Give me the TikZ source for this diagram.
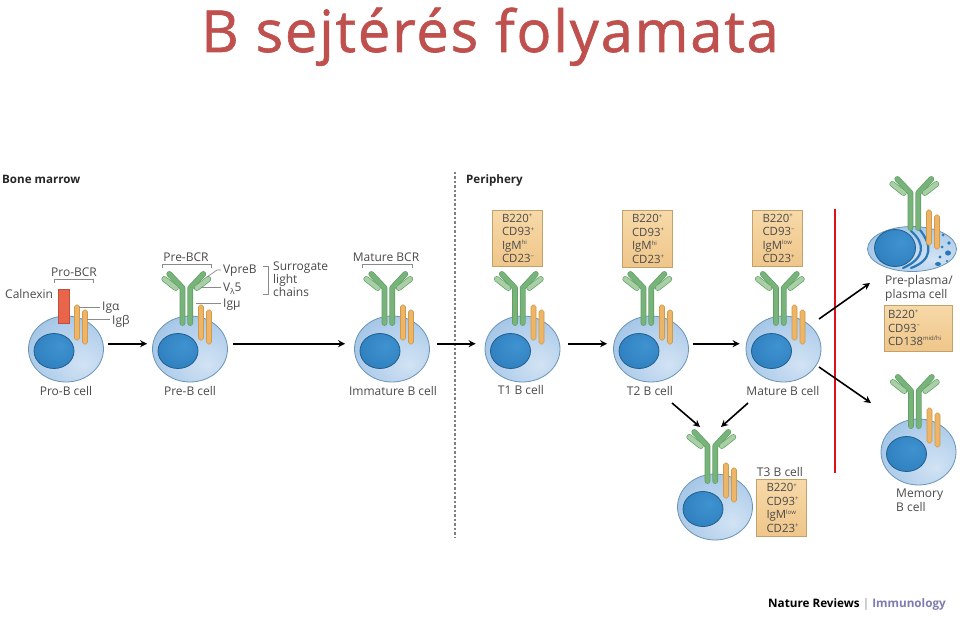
\documentclass[tikz,border=0pt]{standalone}
\usepackage{fontspec}
\setmainfont{Open Sans}
\newfontfamily\titlefont[LetterSpace=3,FakeBold=1]{Open Sans}
\usetikzlibrary{shapes.geometric,arrows.meta}
\definecolor{txt}{HTML}{4A4A4A}
\definecolor{cellA}{HTML}{D2E3F4}
\definecolor{cellB}{HTML}{AECCEA}
\definecolor{cellC}{HTML}{82AEDA}
\definecolor{celledge}{HTML}{6A94B5}
\definecolor{nucA}{HTML}{3F93D0}
\definecolor{nucB}{HTML}{2A78B8}
\definecolor{nucedge}{HTML}{1F5F8F}
\definecolor{grn}{HTML}{78B47A}
\definecolor{grnlt}{HTML}{A9D0A5}
\definecolor{grnedge}{HTML}{5F9E66}
\definecolor{org}{HTML}{EDB565}
\definecolor{orgedge}{HTML}{CF9A4C}
\definecolor{boxA}{HTML}{F7D9A8}
\definecolor{boxB}{HTML}{EFC68A}
\definecolor{boxedge}{HTML}{C4A06B}
\definecolor{titlecol}{HTML}{C0504D}
\definecolor{redline}{HTML}{E01018}
\definecolor{immuno}{HTML}{7C7CB2}
\definecolor{lead}{HTML}{8A8A8A}
\definecolor{calnx}{HTML}{E8654C}
\definecolor{calnxedge}{HTML}{C0503C}
\pgfdeclareradialshading{cellshade}{\pgfpoint{12bp}{-12bp}}{color(0bp)=(cellA); color(28bp)=(cellB); color(58bp)=(cellC); color(70bp)=(cellC)}
\pgfdeclareradialshading{nucshade}{\pgfpoint{8bp}{8bp}}{color(0bp)=(nucA); color(45bp)=(nucB); color(70bp)=(nucB)}
\newcommand{\sps}[1]{\raisebox{.42em}{\fontsize{6}{6}\selectfont #1}}
\tikzset{
  cellbody/.style={ellipse,draw=celledge,line width=.8pt,shading=cellshade,minimum width=75pt,minimum height=66pt,inner sep=0pt},
  nucbody/.style={ellipse,draw=nucedge,line width=.8pt,shading=nucshade,minimum width=40pt,minimum height=35pt,inner sep=0pt},
  lab/.style={inner sep=0pt,text=txt,font=\fontsize{12}{13}\selectfont,anchor=base},
  labl/.style={lab,anchor=base west},
  head/.style={inner sep=0pt,text=black!85,font=\fontsize{11.6}{12}\selectfont\bfseries,anchor=base west},
  markbox/.style={draw=boxedge,line width=.7pt,top color=boxA,bottom color=boxB,inner ysep=0pt,inner xsep=10pt,align=left,text=txt,
    font=\fontsize{11.4}{13.5}\selectfont,minimum height=56.5pt,text width=30pt},
  flow/.style={draw=black,line width=1.6pt,-{Stealth[length=7pt,width=7pt]}},
  leader/.style={draw=lead,line width=.7pt},
  orgbar/.style={draw=orgedge,fill=org,line width=.6pt,rounded corners=1.8pt}
}
\newcommand{\orangebars}[2]{%
  \begin{scope}[shift={(#1,#2)}]
    \draw[orgbar] (8.5,-44) rectangle (13.5,-9);
    \draw[orgbar] (16.5,-39) rectangle (21.5,-5);
  \end{scope}}
\newcommand{\receptor}[2]{%
  \begin{scope}[shift={(#1,#2)},line cap=round,line join=round]
    \foreach \wid/\cola/\colb in {5.8/grnedge/grnedge,4.4/grn/grnlt}{
      \draw[line width=\wid pt,color=\colb] (-25.7,-70)--(-14.2,-61);
      \draw[line width=\wid pt,color=\colb] (18.3,-70)--(6.8,-61);
      \draw[line width=\wid pt,color=\cola] (-7.5,-26)--(-7.5,-61)--(-20.7,-75);
      \draw[line width=\wid pt,color=\cola] (0.2,-26)--(0.2,-61)--(13.3,-75);
    }
  \end{scope}}
\newcommand{\bcell}[3]{%
  \node[cellbody] (#1) at (#2,#3) {};
  \begin{scope}[shift={(#2,#3)}]
    \node[nucbody] (#1nuc) at (-12,2) {};
  \end{scope}}
\begin{document}
\begin{tikzpicture}[x=1pt,y=-1pt]
\useasboundingbox (0,0) rectangle (960,620);
\fill[white] (0,0) rectangle (960,620);

\node[inner sep=0pt,anchor=base,text=titlecol,font=\fontsize{58}{60}\selectfont\titlefont] (title) at (490,52) {B sejtérés folyamata};

\node[head] (bm) at (2,184) {Bone marrow};
\node[head] (per) at (466,184) {Periphery};
\coordinate (divtop) at (455,172);
\coordinate (divbot) at (455,537);
\draw[draw=black!50,line width=1.2pt,dash pattern=on 2.5pt off 2pt] (divtop) -- (divbot);

% cells
\bcell{pro}{66}{349}
\bcell{pre}{190}{349}
\bcell{imm}{392}{349}
\bcell{tone}{522.5}{349}
\bcell{ttwo}{651}{349}
\bcell{mat}{783.5}{349}
\bcell{tthree}{715}{507}
\bcell{mem}{918.5}{452}

% plasma cell
\node[ellipse,draw=celledge,line width=.8pt,shading=cellshade,minimum width=89pt,minimum height=45pt,inner sep=0pt] (pla) at (912,249) {};
\draw[draw=nucB,line width=2.2pt,line cap=round] (911,231) .. controls (925,243) and (926,258) .. (903,268);
\draw[draw=nucB,line width=2.2pt,line cap=round] (920,230) .. controls (932,245) and (933,260) .. (911,268);
\foreach \px/\py/\rx/\ry in {943/235/1.5/1.5,949/243/1.8/1.8,942/247/1.5/1.5,948/253/3/2.6,940/257/1.6/1.6,938/264/3/2,947/261/1.2/1.2,936/240/1.2/1.2}{
  \fill[nucB] (\px,\py) ellipse (\rx pt and \ry pt);
}
\node[nucbody,minimum width=41pt,minimum height=37pt] (planuc) at (895,248) {};

% receptors and bars
\draw[draw=calnxedge,fill=calnx,line width=.7pt] (58,289) rectangle (69.5,323);
\foreach \cx/\cy in {190/349,392/349,522.5/349,651/349,783.5/349,715/507,918.5/452,918/254}{
  \receptor{\cx}{\cy}
  \orangebars{\cx}{\cy}
}
\orangebars{66}{349}

% Pro-B labels
\node[lab] (lbpro) at (74,276) {Pro-BCR};
\coordinate (pa) at (54,283); \coordinate (pb) at (54,279); \coordinate (pc) at (93,279); \coordinate (pd) at (93,283);
\draw[leader] (pa)--(pb)--(pc)--(pd);
\node[labl] (calx) at (5,298) {Calnexin};
\node[labl] (iga) at (102,310) {Igα};
\node[labl] (igb) at (112,324) {Igβ};
\coordinate (iga0) at (79,307); \coordinate (igb0) at (87,319);
\draw[leader] (iga0) -- (100,307);
\draw[leader] (igb0) -- (110,319);
\node[lab] (cpro) at (66,395) {Pro-B cell};

% Pre-B labels
\node[lab] (lbpre) at (186,261) {Pre-BCR};
\coordinate (qa) at (162,268); \coordinate (qb) at (162,264); \coordinate (qc) at (211,264); \coordinate (qd) at (211,268);
\draw[leader] (qa)--(qb)--(qc)--(qd);
\node[labl] (vpre) at (223,273) {VpreB};
\node[labl] (vl) at (223,291) {V\raisebox{-.25em}{\fontsize{8}{8}\selectfont λ}5};
\node[labl] (igm) at (223,307) {Igμ};
\coordinate (v0) at (207,277); \coordinate (v1) at (217,270); \coordinate (v2) at (221,270);
\draw[leader] (v0)--(v1)--(v2);
\coordinate (l0) at (201,287); \coordinate (l1) at (221,287);
\draw[leader] (l0)--(l1);
\coordinate (m0) at (196,303); \coordinate (m1) at (221,303);
\draw[leader] (m0)--(m1);
\coordinate (ra) at (263,266); \coordinate (rb) at (268,266); \coordinate (rc) at (268,294); \coordinate (rd) at (263,294);
\draw[leader] (ra)--(rb)--(rc)--(rd);
\node[labl,align=left,anchor=north west,font=\fontsize{12}{13}\selectfont] (surr) at (273,262) {Surrogate\\light\\chains};
\node[lab] (cpre) at (190,395) {Pre-B cell};

% immature
\node[lab] (lbmat) at (386,261) {Mature BCR};
\coordinate (sa) at (362,268); \coordinate (sb) at (362,264); \coordinate (sc) at (412,264); \coordinate (sd) at (412,268);
\draw[leader] (sa)--(sb)--(sc)--(sd);
\node[lab] (cimm) at (393,395) {Immature B cell};
\node[lab] (cto) at (521,394) {T1 B cell};
\node[lab] (ctt) at (650,395) {T2 B cell};
\node[lab] (cmat) at (783,395) {Mature B cell};
\node[lab] (cth) at (780,476) {T3 B cell};
\node[labl,align=left,anchor=north west,font=\fontsize{12}{13.5}\selectfont] (cmem) at (896,489) {Memory\\B cell};
\node[labl,align=left,anchor=north west,font=\fontsize{12}{14}\selectfont] (cpla) at (885,275) {Pre-plasma/\\plasma cell};

% marker boxes
\node[markbox] (b1) at (517,238.5) {B220\sps{+}\\CD93\sps{+}\\IgM\sps{hi}\\CD23\sps{−}};
\node[markbox] (b2) at (647,239) {B220\sps{+}\\CD93\sps{+}\\IgM\sps{hi}\\CD23\sps{+}};
\node[markbox] (b3) at (777.5,238.5) {B220\sps{+}\\CD93\sps{−}\\IgM\sps{low}\\CD23\sps{+}};
\node[markbox] (b4) at (781.5,508) {B220\sps{+}\\CD93\sps{+}\\IgM\sps{low}\\CD23\sps{+}};
\node[markbox,minimum height=46pt,text width=60pt,inner xsep=4pt] (b5) at (918,328) {B220\sps{+}\\CD93\sps{−}\\CD138\sps{mid/hi}};

% red line
\coordinate (r0) at (835,209); \coordinate (r1) at (835,473);
\draw[draw=redline,line width=2.5pt] (r0) -- (r1);

% arrows
\draw[flow,shorten <=4.5pt,shorten >=5pt] ([yshift=5.3pt]pro.east) -- ([yshift=5.3pt]pre.west);
\draw[flow,shorten <=5pt,shorten >=9pt] ([yshift=5.3pt]pre.east) -- ([yshift=5.3pt]imm.west);
\draw[flow,shorten <=7pt,shorten >=9pt] ([yshift=5.3pt]imm.east) -- ([yshift=5.3pt]tone.west);
\draw[flow,shorten <=8pt,shorten >=6pt] ([yshift=5.3pt]tone.east) -- ([yshift=5.3pt]ttwo.west);
\draw[flow,shorten <=4pt,shorten >=6pt] ([yshift=5.3pt]ttwo.east) -- ([yshift=5.3pt]mat.west);
\coordinate (a1) at (819,319); \coordinate (a2) at (870,283);
\draw[flow] (a1) -- (a2);
\coordinate (a3) at (819,367); \coordinate (a4) at (871,403);
\draw[flow] (a3) -- (a4);
\coordinate (a5) at (672,403); \coordinate (a6) at (700,427);
\draw[flow] (a5) -- (a6);
\coordinate (a7) at (748,403); \coordinate (a8) at (721,427);
\draw[flow] (a7) -- (a8);

\node[inner sep=0pt,anchor=base west,font=\fontsize{11.7}{12}\selectfont\bfseries] (nat) at (768,607) {Nature Reviews \textcolor{lead}{\mdseries|} \textcolor{immuno}{Immunology}};
\end{tikzpicture}
\end{document}
